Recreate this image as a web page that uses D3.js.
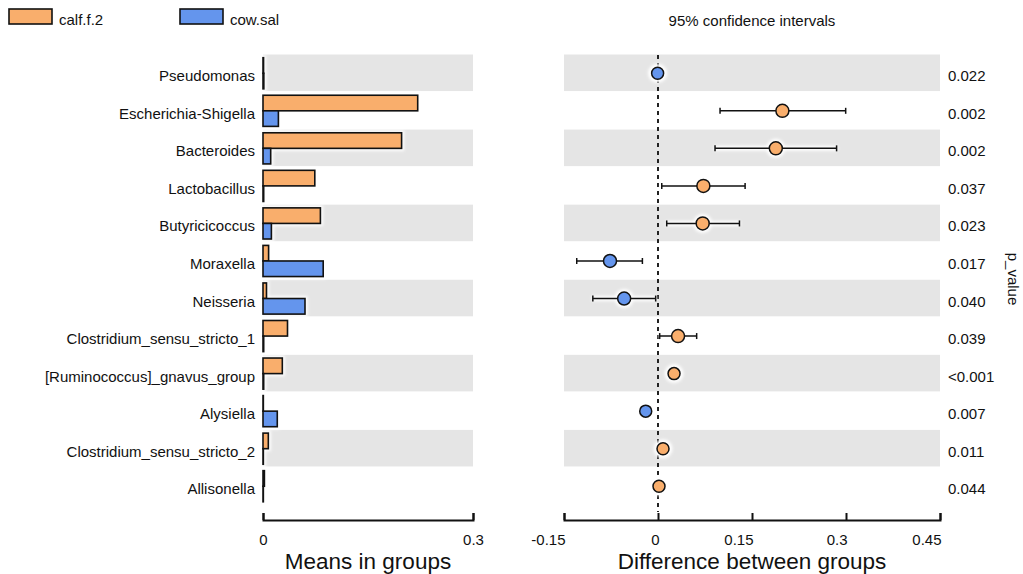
<!DOCTYPE html>
<html>
<head>
<meta charset="utf-8">
<script src="https://cdn.jsdelivr.net/npm/d3@7"></script>
<style>
  body { margin: 0; background: #fff; }
  svg { font-family: "Liberation Sans", Arial, Helvetica, sans-serif; }
</style>
</head>
<body>
<svg id="chart" width="1023" height="574"></svg>
<script>
const categories = ["Pseudomonas","Escherichia-Shigella","Bacteroides","Lactobacillus","Butyricicoccus","Moraxella","Neisseria","Clostridium_sensu_stricto_1","[Ruminococcus]_gnavus_group","Alysiella","Clostridium_sensu_stricto_2","Allisonella"];
const groups = ["calf.f.2","cow.sal"];
const meanCalf = [0.0008,0.221,0.198,0.074,0.082,0.008,0.005,0.035,0.0276,0.0005,0.0076,0.002];
const meanCow  = [0.0012,0.022,0.011,0.001,0.012,0.086,0.060,0.001,0.001,0.0204,0.0005,0.0005];
const diffEst  = [-0.0006,0.1985,0.188,0.0724,0.0713,-0.0766,-0.054,0.032,0.0256,-0.0196,0.008,0.0016];
const ciLow    = [-0.004,0.099,0.091,0.006,0.0139,-0.1297,-0.104,0.0027,0.022,-0.024,0.004,-0.001];
const ciHigh   = [0.003,0.2995,0.285,0.139,0.130,-0.0249,-0.0037,0.0617,0.030,-0.015,0.012,0.004];
const pValues  = ["0.022","0.002","0.002","0.037","0.023","0.017","0.040","0.039","<0.001","0.007","0.011","0.044"];
const meanTicks = [0, 0.3];
const diffTicks = [-0.15, 0, 0.15, 0.3, 0.45];

const colors = {"calf.f.2": "#F9AE6C", "cow.sal": "#6495ED"};
const gray = "#E5E5E5";

const svg = d3.select("#chart");
const defs = svg.append("defs");
defs.append("filter").attr("id", "halo").attr("x", "-50%").attr("y", "-50%").attr("width", "200%").attr("height", "200%")
  .append("feGaussianBlur").attr("stdDeviation", 1.6);

const y = d3.scaleBand().domain(categories).range([54.5, 505]).paddingInner(0).paddingOuter(0);
const yInner = d3.scaleBand().domain(groups).range([3.2, y.bandwidth() - 3.2]);
const xMean = d3.scaleLinear().domain([0, 0.3]).range([263, 473]);
const xDiff = d3.scaleLinear().domain([-0.15, 0.45]).range([564, 940]);

const rows = categories.map((c, i) => ({
  cat: c, i, calf: meanCalf[i], cow: meanCow[i],
  est: diffEst[i], lo: ciLow[i], hi: ciHigh[i], p: pValues[i]
}));

// background bands
const bandRows = rows.filter(d => d.i % 2 === 0);
svg.append("g").selectAll("rect").data(bandRows).join("rect")
  .attr("x", xMean(0)).attr("width", xMean(0.3) - xMean(0))
  .attr("y", d => y(d.cat)).attr("height", y.bandwidth() - 1)
  .attr("fill", gray);
svg.append("g").selectAll("rect").data(bandRows).join("rect")
  .attr("x", xDiff(-0.15)).attr("width", xDiff(0.45) - xDiff(-0.15))
  .attr("y", d => y(d.cat)).attr("height", y.bandwidth() - 1)
  .attr("fill", gray);

// bars (with soft white halo)
const haloG = svg.append("g").attr("filter", "url(#halo)");
const barG = svg.append("g");
rows.forEach(d => {
  [["calf.f.2", d.calf], ["cow.sal", d.cow]].forEach(([g, v]) => {
    const w = Math.max(0, xMean(v) - xMean(0));
    haloG.append("rect")
      .attr("x", xMean(0) - 2.5).attr("y", y(d.cat) + yInner(g) - 2.5)
      .attr("width", w + 5).attr("height", yInner.bandwidth() + 5)
      .attr("fill", "#fff");
    barG.append("rect")
      .attr("x", xMean(0))
      .attr("y", y(d.cat) + yInner(g))
      .attr("width", w)
      .attr("height", yInner.bandwidth())
      .attr("fill", colors[g])
      .attr("stroke", "#111").attr("stroke-width", 1.6);
  });
});

// row labels
svg.append("g").selectAll("text").data(rows).join("text")
  .attr("x", 255).attr("y", d => y(d.cat) + y.bandwidth() / 2 + 2.5)
  .attr("text-anchor", "end").attr("dominant-baseline", "central")
  .attr("font-size", 15).attr("fill", "#111")
  .text(d => d.cat);

// zero dashed line
svg.append("line")
  .attr("x1", xDiff(0)).attr("x2", xDiff(0))
  .attr("y1", 55).attr("y2", 512)
  .attr("stroke", "#222").attr("stroke-width", 2).attr("stroke-dasharray", "4,4");

// halos for CI and points
const ptHalo = svg.append("g").attr("filter", "url(#halo)");
rows.forEach(d => {
  const cy = y(d.cat) + y.bandwidth() / 2;
  ptHalo.append("line").attr("x1", xDiff(d.lo) - 1).attr("x2", xDiff(d.hi) + 1).attr("y1", cy).attr("y2", cy)
    .attr("stroke", "#fff").attr("stroke-width", 5);
  ptHalo.append("circle").attr("cx", xDiff(d.est)).attr("cy", cy).attr("r", 9.5).attr("fill", "#fff");
});

// CI whiskers
const ciG = svg.append("g").attr("stroke", "#111").attr("stroke-width", 1.5);
rows.forEach(d => {
  const cy = y(d.cat) + y.bandwidth() / 2;
  ciG.append("line").attr("x1", xDiff(d.lo)).attr("x2", xDiff(d.hi)).attr("y1", cy).attr("y2", cy);
  ciG.append("line").attr("x1", xDiff(d.lo)).attr("x2", xDiff(d.lo)).attr("y1", cy - 3).attr("y2", cy + 3);
  ciG.append("line").attr("x1", xDiff(d.hi)).attr("x2", xDiff(d.hi)).attr("y1", cy - 3).attr("y2", cy + 3);
});

// points
svg.append("g").selectAll("circle").data(rows).join("circle")
  .attr("cx", d => xDiff(d.est))
  .attr("cy", d => y(d.cat) + y.bandwidth() / 2)
  .attr("r", d => Math.abs(d.hi - d.lo) < 0.012 ? 6 : 6.5)
  .attr("fill", d => d.est >= 0 ? colors["calf.f.2"] : colors["cow.sal"])
  .attr("stroke", "#111").attr("stroke-width", 1.5);

// p values
svg.append("g").selectAll("text").data(rows).join("text")
  .attr("x", 948).attr("y", d => y(d.cat) + y.bandwidth() / 2 + 2.5)
  .attr("dominant-baseline", "central")
  .attr("font-size", 15).attr("fill", "#111")
  .text(d => d.p);

svg.append("text")
  .attr("transform", "translate(1013,279) rotate(90)")
  .attr("text-anchor", "middle").attr("dominant-baseline", "central")
  .attr("font-size", 15).attr("fill", "#111")
  .text("p_value");

// axes
function styleAxis(g) {
  g.selectAll("path, line").attr("stroke", "#111").attr("stroke-width", 2);
  g.selectAll("text").attr("font-size", 15).attr("fill", "#111")
    .attr("font-family", "Liberation Sans, Arial, sans-serif");
}
const axMean = d3.axisBottom(xMean).tickValues(meanTicks).tickFormat(d3.format("")).tickSize(-7).tickPadding(14);
svg.append("g").attr("transform", "translate(0,520)").call(axMean).call(styleAxis);
const axDiff = d3.axisBottom(xDiff).tickValues(diffTicks).tickFormat(d => String(+d.toFixed(2))).tickSize(-7).tickPadding(14);
svg.append("g").attr("transform", "translate(0,520)").call(axDiff).call(styleAxis)
  .call(g => g.selectAll(".tick text").attr("text-anchor", "end").attr("x", 1));

svg.append("text").attr("x", (xMean(0) + xMean(0.3)) / 2).attr("y", 561)
  .attr("text-anchor", "middle").attr("dominant-baseline", "central")
  .attr("font-size", 22.5).attr("fill", "#111").text("Means in groups");
svg.append("text").attr("x", (xDiff(-0.15) + xDiff(0.45)) / 2).attr("y", 561)
  .attr("text-anchor", "middle").attr("dominant-baseline", "central")
  .attr("font-size", 22.5).attr("fill", "#111").text("Difference between groups");

svg.append("text").attr("x", 752).attr("y", 20)
  .attr("text-anchor", "middle").attr("dominant-baseline", "central")
  .attr("font-size", 15).attr("fill", "#111").text("95% confidence intervals");

// legend
const leg = svg.append("g");
const legPos = [{g: "calf.f.2", x: 9}, {g: "cow.sal", x: 180}];
legPos.forEach(l => {
  leg.append("rect").attr("x", l.x).attr("y", 9).attr("width", 43).attr("height", 15)
    .attr("fill", colors[l.g]).attr("stroke", "#111").attr("stroke-width", 1.6);
  leg.append("text").attr("x", l.x + 50).attr("y", 19)
    .attr("dominant-baseline", "central").attr("font-size", 15).attr("fill", "#111").text(l.g);
});
</script>
</body>
</html>
